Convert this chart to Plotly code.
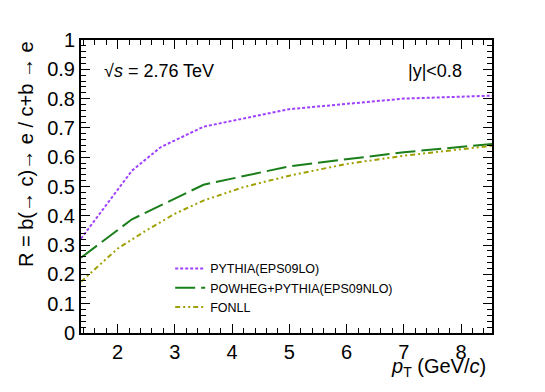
import plotly.graph_objects as go

# pT values (GeV/c) and R ratios
pt_pythia = [1.36, 2.25, 2.75, 3.5, 5.0, 7.0, 8.54]
r_pythia = [0.322, 0.554, 0.634, 0.704, 0.764, 0.800, 0.810]

pt_powheg = [1.36, 2.25, 3.5, 5.0, 7.0, 8.54]
r_powheg = [0.257, 0.388, 0.506, 0.569, 0.617, 0.645]

pt_fonll = [1.36, 2.0, 2.5, 3.0, 3.5, 4.2, 5.0, 6.0, 7.0, 8.54]
r_fonll = [0.175, 0.288, 0.350, 0.407, 0.452, 0.498, 0.537, 0.577, 0.605, 0.639]

font = "Liberation Sans, Arial, sans-serif"

fig = go.Figure()
fig.add_trace(go.Scatter(x=pt_pythia, y=r_pythia, mode="lines", name="PYTHIA(EPS09LO)",
                         line=dict(color="#a040ff", width=2, dash="3px,2px")))
fig.add_trace(go.Scatter(x=pt_powheg, y=r_powheg, mode="lines", name="POWHEG+PYTHIA(EPS09NLO)",
                         line=dict(color="#1a7f1a", width=2, dash="20px,6px")))
fig.add_trace(go.Scatter(x=pt_fonll, y=r_fonll, mode="lines", name="FONLL",
                         line=dict(color="#a0a000", width=2, dash="5px,3px,2px,3px,2px,3px")))

axis_common = dict(
    ticks="inside", ticklen=9, tickwidth=1, tickcolor="black",
    showline=True, linecolor="black", linewidth=2, mirror="allticks",
    showgrid=False, zeroline=False,
    tickfont=dict(family=font, size=20, color="black"),
)

fig.update_xaxes(range=[1.36, 8.54], dtick=1, tick0=0,
                 minor=dict(ticks="inside", ticklen=5, dtick=0.2, tickcolor="black", showgrid=False),
                 **axis_common)
fig.update_yaxes(range=[0, 1], dtick=0.1, tick0=0,
                 minor=dict(ticks="inside", ticklen=5, dtick=0.02, tickcolor="black", showgrid=False),
                 **axis_common)

# page body adds an 8px offset, so the figure is a bit smaller than the window
fig.update_layout(
    width=537, height=384,
    margin=dict(l=73, r=53, t=32, b=59),
    paper_bgcolor="white", plot_bgcolor="white",
    font=dict(family=font, color="black"),
    showlegend=True,
    legend=dict(x=0.217, y=0.27, xanchor="left", yanchor="top",
                bgcolor="rgba(0,0,0,0)", font=dict(size=12.5, family=font),
                tracegroupgap=0, itemwidth=30),
    annotations=[
        dict(text="√<i>s</i> = 2.76 TeV", xref="paper", yref="paper", x=0.05, y=0.894,
             xanchor="left", yanchor="middle", showarrow=False, font=dict(size=18)),
        dict(text="|y|<0.8", xref="paper", yref="paper", x=0.932, y=0.894,
             xanchor="right", yanchor="middle", showarrow=False, font=dict(size=18)),
        dict(text="R = b(→ c)→ e / c+b → e", xref="paper", yref="paper", x=-0.134, y=1.003,
             xanchor="center", yanchor="top", textangle=-90, showarrow=False,
             font=dict(size=20)),
        dict(text="<i>p</i><sub>T</sub> (GeV/<i>c</i>)", xref="paper", yref="paper", x=0.99, y=-0.119,
             xanchor="right", yanchor="middle", showarrow=False, font=dict(size=20)),
    ],
)

fig.write_html("out.html")
